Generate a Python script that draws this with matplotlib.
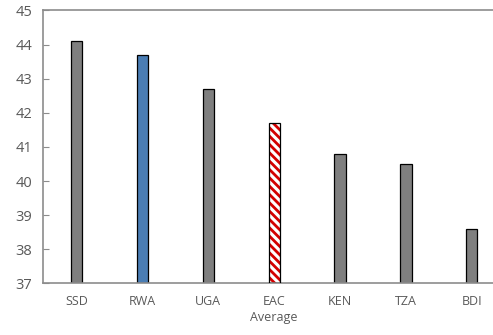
import matplotlib
matplotlib.use("Agg")
import matplotlib.pyplot as plt
import numpy as np

categories = ["SSD", "RWA", "UGA", "EAC\nAverage", "KEN", "TZA", "BDI"]
values = [44.1, 43.7, 42.7, 41.7, 40.8, 40.5, 38.6]
y_ticks = [37, 38, 39, 40, 41, 42, 43, 44, 45]

GREY = "#7f7f7f"
BLUE = "#4a7db4"
AXIS = "#8c8c8c"
TEXT = "#595959"

plt.rcParams["font.family"] = ["Open Sans", "DejaVu Sans"]
plt.rcParams["hatch.linewidth"] = 2.0

fig = plt.figure(figsize=(4.93, 3.35), dpi=100)
ax = fig.add_axes([0.088, 0.154, 0.936, 0.815])

x = np.arange(len(categories))
colors = [GREY, BLUE, GREY, "white", GREY, GREY, GREY]
width = 0.17

for i, (xi, v, c) in enumerate(zip(x, values, colors)):
    if i == 3:
        # EAC average: red diagonal stripes, black outline on top
        ax.bar(xi, v - 37, width, bottom=37, color="white", edgecolor="#d40000",
               hatch="\\\\\\\\", linewidth=0, zorder=2)
        ax.bar(xi, v - 37, width, bottom=37, fill=False, edgecolor="black",
               linewidth=0.9, zorder=3)
    else:
        ax.bar(xi, v - 37, width, bottom=37, color=c, edgecolor="black",
               linewidth=0.9, zorder=2)

ax.set_xlim(-0.5, len(categories) - 0.5)
ax.set_ylim(37, 45)
ax.set_yticks(y_ticks)
ax.set_xticks(x)
ax.set_xticklabels(categories, fontsize=9, color=TEXT, linespacing=1.3)
ax.tick_params(axis="x", length=0, pad=8)
ax.tick_params(axis="y", direction="in", length=4, color=AXIS, labelsize=10.5,
               labelcolor=TEXT, pad=8)

for side in ["left", "bottom", "top", "right"]:
    ax.spines[side].set_color(AXIS)
    ax.spines[side].set_linewidth(1.2)

fig.savefig("out.png", dpi=100)
